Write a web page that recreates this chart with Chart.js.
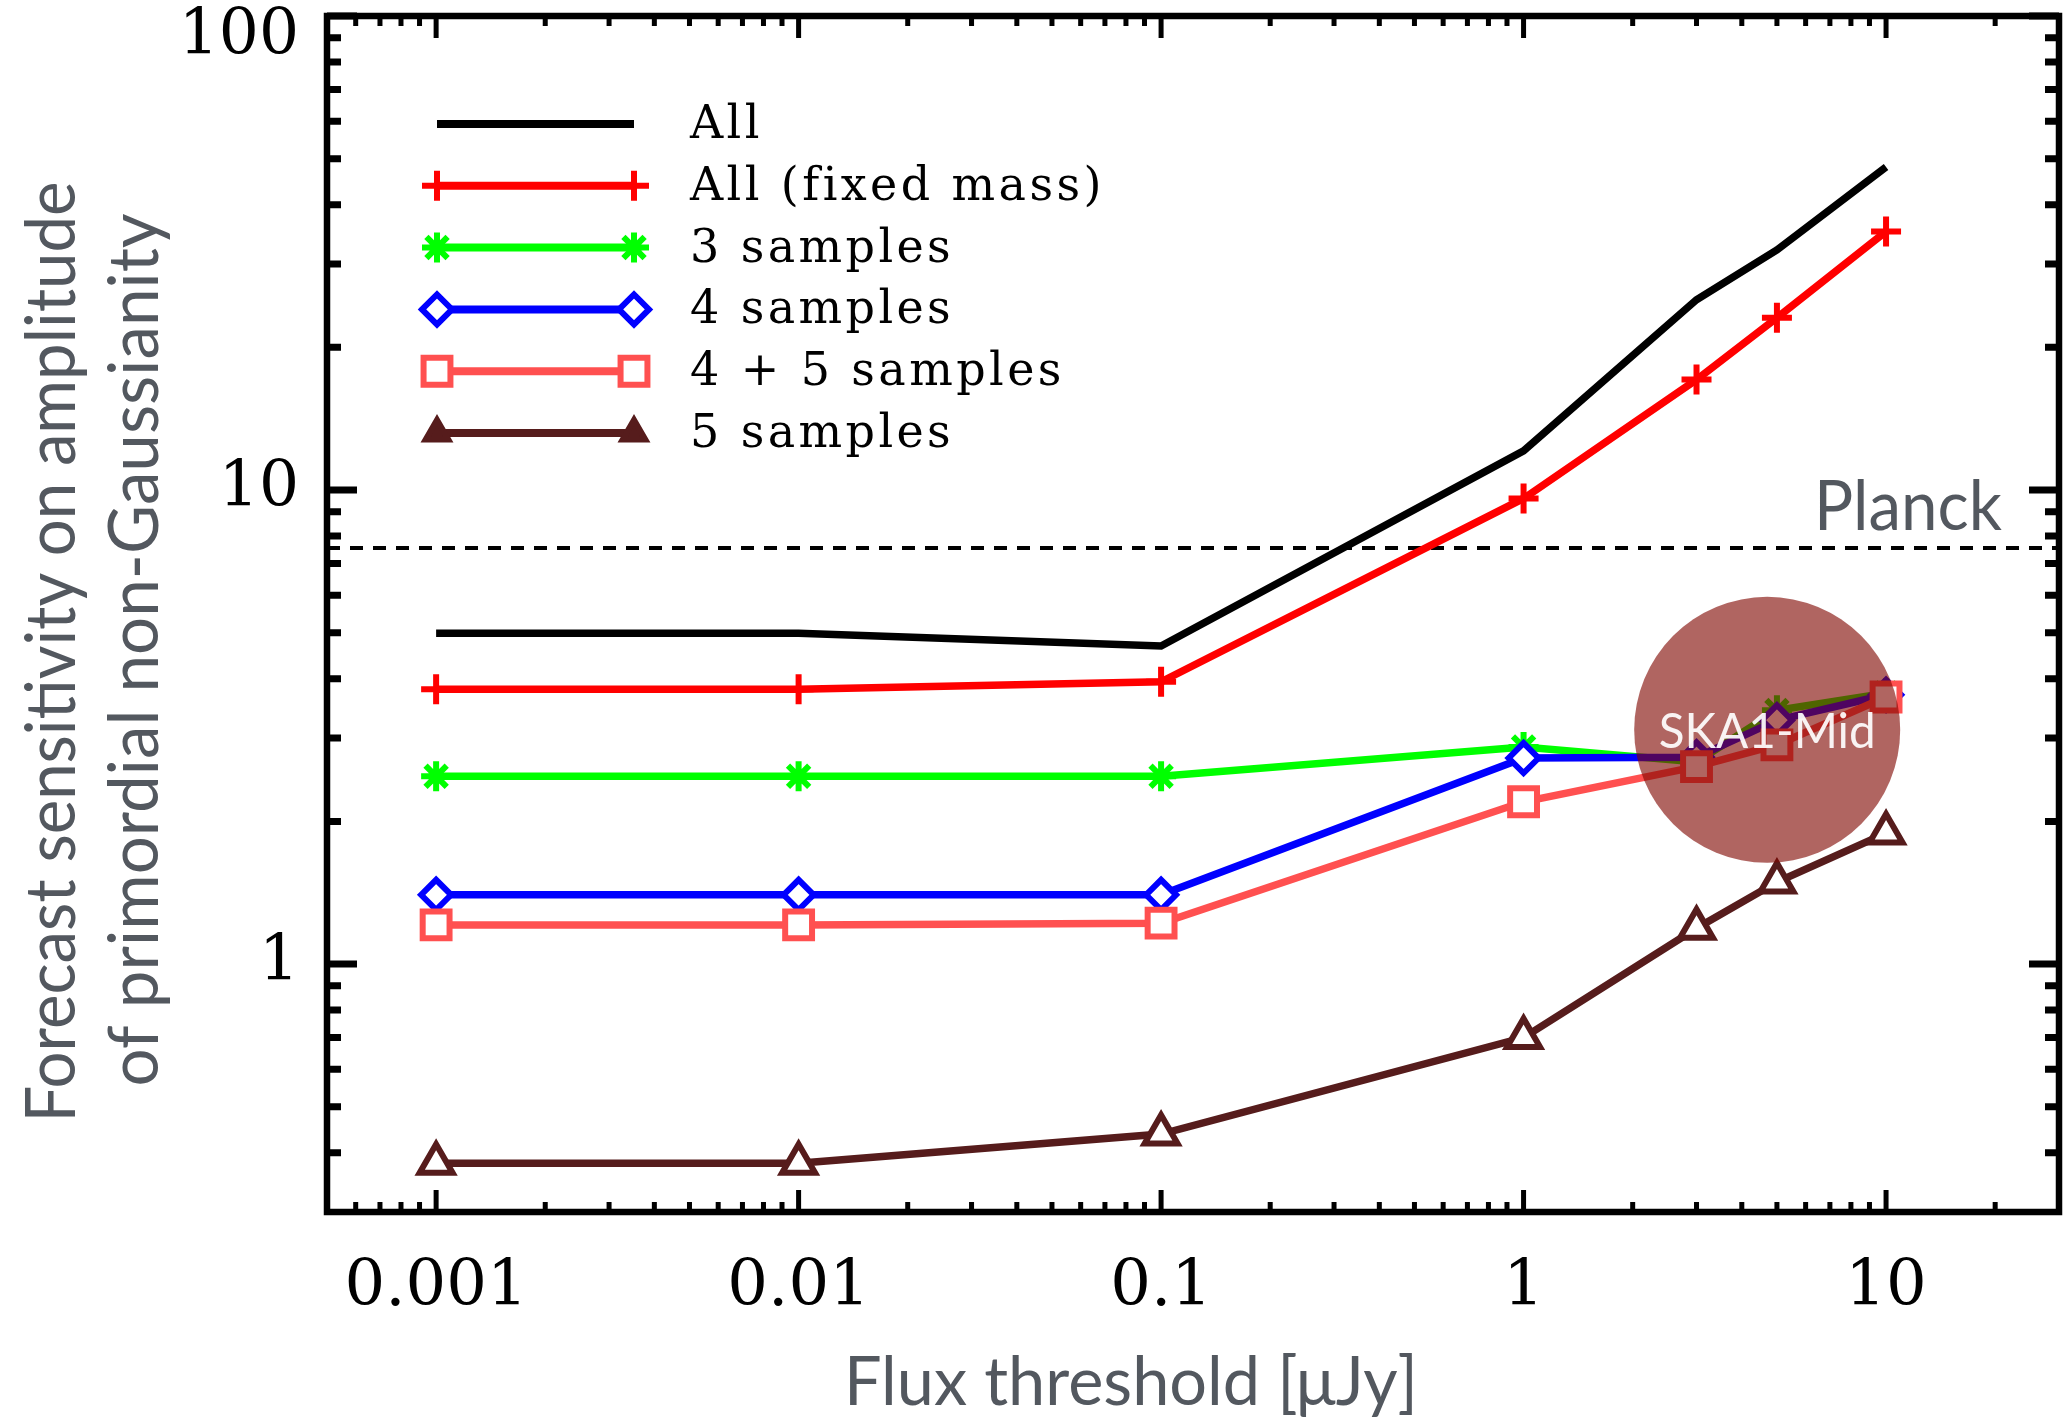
<!DOCTYPE html>
<html>
<head>
<meta charset="utf-8">
<title>Forecast sensitivity on fNL</title>
<script src="https://cdn.jsdelivr.net/npm/chart.js@4.4.1/dist/chart.umd.min.js"></script>
<style>
    html, body { margin: 0; padding: 0; background: #fff; }
    #wrap { width: 2069px; height: 1419px; }
</style>
</head>
<body>
<div id="wrap"><canvas id="grafico" width="2069" height="1419"></canvas></div>
<script>
// datos
const fluxThresholds = [0.001, 0.01, 0.1, 1, 3, 5, 10];
const sigmaAll = [4.99, 4.99, 4.69, 12.1, 25.2, 32.1, 48.0];
const sigmaAllFixedMass = [3.80, 3.80, 3.94, 9.6, 17.1, 23.1, 35.1];
const sigma3Samples = [2.49, 2.49, 2.49, 2.87, 2.67, 3.43, 3.73];
const sigma4Samples = [1.40, 1.40, 1.40, 2.72, 2.73, 3.27, 3.70];
const sigma45Samples = [1.21, 1.21, 1.22, 2.20, 2.61, 2.90, 3.66];
const sigma5Samples = [0.380, 0.380, 0.438, 0.70, 1.19, 1.49, 1.89];
const planckSigma = 7.55;
const skaCentre = [4.7, 3.12];
const xRange = [5e-4, 30];
const yRange = [0.3, 100];
const xTickValues = [0.001, 0.01, 0.1, 1, 10];
const xTickLabels = ['0.001', '0.01', '0.1', '1', '10'];
const yTickValues = [1, 10, 100];
const yTickLabels = ['1', '10', '100'];
const seriesLabels = ['All', 'All (fixed mass)', '3 samples', '4 samples', '4 + 5 samples', '5 samples'];

const serif = '"DejaVu Serif", "Liberation Serif", serif';
const sans = 'Lato, "Open Sans", sans-serif';
const grisTitulo = '#53585f';

function serie(valores) {
    return fluxThresholds.map((x, i) => ({ x: x, y: valores[i] }));
}

function lineaConMarcas(label, valores, color, estilo, radio, relleno, orden) {
    return {
        label: label,
        data: serie(valores),
        borderColor: color,
        borderWidth: 7.5,
        tension: 0,
        pointStyle: estilo,
        pointRadius: radio,
        pointHoverRadius: radio,
        pointBorderWidth: 6,
        pointBorderColor: color,
        pointBackgroundColor: relleno,
        order: orden
    };
}

const datasets = [
    {
        label: 'Planck',
        data: [{ x: xRange[0], y: planckSigma }, { x: xRange[1], y: planckSigma }],
        borderColor: '#000',
        borderWidth: 4,
        borderDash: [13, 10],
        pointRadius: 0,
        order: 9
    },
    { label: seriesLabels[0], data: serie(sigmaAll), borderColor: '#000', borderWidth: 7.5, pointRadius: 0, order: 7 },
    lineaConMarcas(seriesLabels[1], sigmaAllFixedMass, '#ff0000', 'cross', 15, '#ff0000', 6),
    lineaConMarcas(seriesLabels[2], sigma3Samples, '#00ff00', 'star', 15, '#00ff00', 5),
    lineaConMarcas(seriesLabels[3], sigma4Samples, '#0000ff', 'rectRot', 15, '#ffffff', 4),
    lineaConMarcas(seriesLabels[4], sigma45Samples, '#ff5050', 'rect', 19, '#ffffff', 3),
    lineaConMarcas(seriesLabels[5], sigma5Samples, '#561c1c', 'triangle', 19, '#ffffff', 2),
    {
        type: 'bubble',
        label: 'SKA1-Mid',
        data: [{ x: skaCentre[0], y: skaCentre[1], r: 133 }],
        backgroundColor: 'rgba(128, 6, 0, 0.62)',
        borderWidth: 0,
        hoverRadius: 0,
        order: 0
    }
];

// texto ajustado a un ancho dado
function textoAjustado(ctx, texto, x, y, ancho, alinear, angulo) {
    const w = ctx.measureText(texto).width;
    ctx.save();
    ctx.translate(x, y);
    if (angulo) ctx.rotate(angulo);
    ctx.scale(ancho / w, 1);
    ctx.textAlign = alinear;
    ctx.fillText(texto, 0, 0);
    ctx.restore();
}

const marcoPlugin = {
    id: 'marco',
    beforeDatasetsDraw(chart) {
        const { ctx, chartArea: a, scales: { x, y } } = chart;
        ctx.save();
        ctx.strokeStyle = '#000';
        ctx.lineCap = 'butt';

        function tickX(v, largo) {
            const px = x.getPixelForValue(v);
            ctx.beginPath();
            ctx.moveTo(px, a.bottom); ctx.lineTo(px, a.bottom - largo);
            ctx.moveTo(px, a.top); ctx.lineTo(px, a.top + largo);
            ctx.stroke();
        }
        function tickY(v, largo) {
            const py = y.getPixelForValue(v);
            ctx.beginPath();
            ctx.moveTo(a.left, py); ctx.lineTo(a.left + largo, py);
            ctx.moveTo(a.right, py); ctx.lineTo(a.right - largo, py);
            ctx.stroke();
        }

        ctx.lineWidth = 5;
        xTickValues.forEach(v => tickX(v, 22));
        for (let k = -4; k <= 1; k++) {
            for (let m = 2; m <= 9; m++) {
                const v = m * Math.pow(10, k);
                if (v > xRange[0] * 1.01 && v < xRange[1] * 0.99) tickX(v, 10);
            }
        }
        ctx.lineWidth = 7;
        yTickValues.forEach(v => tickY(v, 30));
        for (let k = -1; k <= 1; k++) {
            for (let m = 2; m <= 9; m++) {
                const v = m * Math.pow(10, k);
                if (v > yRange[0] * 1.01 && v < yRange[1] * 0.99) tickY(v, 14);
            }
        }
        ctx.lineWidth = 6.5;
        ctx.strokeRect(a.left, a.top, a.width, a.height);
        ctx.restore();
    },
    afterDraw(chart) {
        const { ctx, scales: { x, y } } = chart;
        ctx.save();

        // Planck
        ctx.fillStyle = grisTitulo;
        ctx.font = '400 70px ' + sans;
        ctx.textBaseline = 'alphabetic';
        textoAjustado(ctx, 'Planck', 2002, y.getPixelForValue(planckSigma) - 18, 188, 'right');

        // SKA1-Mid
        const cx = x.getPixelForValue(skaCentre[0]);
        const cy = y.getPixelForValue(skaCentre[1]);
        ctx.fillStyle = 'rgba(255,255,255,0.92)';
        ctx.font = '400 49px ' + sans;
        textoAjustado(ctx, 'SKA1-Mid', cx, cy + 18, 217, 'center');

        // titulos de ejes
        ctx.fillStyle = grisTitulo;
        ctx.font = '400 67px ' + sans;
        textoAjustado(ctx, 'Flux threshold [\u03bcJy]', 1131, 1405, 574, 'center');
        ctx.font = '400 70px ' + sans;
        textoAjustado(ctx, 'Forecast sensitivity on amplitude', 75, 652, 941, 'center', -Math.PI / 2);
        textoAjustado(ctx, 'of primordial non-Gaussianity', 158, 650, 873, 'center', -Math.PI / 2);

        // leyenda
        const filas = datasets.slice(1, 7);
        ctx.font = '46px ' + serif;
        const wRef = ctx.measureText(seriesLabels[1]).width;
        if ('letterSpacing' in ctx) ctx.letterSpacing = ((414 - wRef) / seriesLabels[1].length).toFixed(1) + 'px';
        filas.forEach((ds, i) => {
            const yy = 124 + i * 61.8;
            ctx.strokeStyle = ds.borderColor;
            ctx.lineWidth = 8;
            ctx.beginPath();
            ctx.moveTo(437, yy); ctx.lineTo(634, yy);
            ctx.stroke();
            if (ds.pointRadius > 0) {
                const triangulo = ds.pointStyle === 'triangle';
                const opciones = {
                    pointStyle: ds.pointStyle,
                    radius: triangulo ? 13 : ds.pointRadius,
                    rotation: 0,
                    borderWidth: ds.pointBorderWidth
                };
                ctx.lineWidth = ds.pointBorderWidth;
                ctx.strokeStyle = ds.pointBorderColor;
                ctx.fillStyle = triangulo ? ds.pointBorderColor : ds.pointBackgroundColor;
                [437, 634].forEach(px => Chart.helpers.drawPoint(ctx, opciones, px, yy));
            }
            ctx.fillStyle = '#000';
            ctx.textAlign = 'left';
            ctx.fillText(ds.label, 690, yy + 14);
        });
        ctx.restore();
    }
};

new Chart(document.getElementById('grafico'), {
    type: 'line',
    data: { datasets: datasets },
    options: {
        responsive: false,
        animation: false,
        layout: { autoPadding: false, padding: { top: 16, right: 10, left: 0, bottom: 0 } },
        plugins: { legend: { display: false }, tooltip: { enabled: false } },
        scales: {
            x: {
                type: 'logarithmic',
                position: 'bottom',
                min: xRange[0],
                max: xRange[1],
                grid: { display: false, drawTicks: false, tickLength: 0 },
                border: { display: false },
                afterBuildTicks: s => { s.ticks = xTickValues.map(v => ({ value: v })); },
                afterFit: s => { s.height = 1419 - 1212; s.paddingLeft = 0; s.paddingRight = 0; },
                ticks: {
                    autoSkip: false,
                    maxRotation: 0,
                    padding: 38,
                    color: '#000',
                    font: { family: serif, size: 64 },
                    callback: (v, i) => xTickLabels[i]
                }
            },
            y: {
                type: 'logarithmic',
                min: yRange[0],
                max: yRange[1],
                grid: { display: false, drawTicks: false, tickLength: 0 },
                border: { display: false },
                afterBuildTicks: s => { s.ticks = yTickValues.map(v => ({ value: v })); },
                afterFit: s => { s.width = 327; s.paddingTop = 0; s.paddingBottom = 0; },
                ticks: {
                    autoSkip: false,
                    padding: 28,
                    color: '#000',
                    font: c => ({
                        family: serif,
                        size: 63,
                        lineHeight: (c.tick && c.tick.value === yTickValues[2]) ? 0.68 : 1.2
                    }),
                    // la etiqueta de arriba baja un poco, como en la figura
                    callback: (v, i) => i === yTickValues.length - 1 ? ['', yTickLabels[i]] : yTickLabels[i]
                }
            }
        }
    },
    plugins: [marcoPlugin]
});
</script>
</body>
</html>
